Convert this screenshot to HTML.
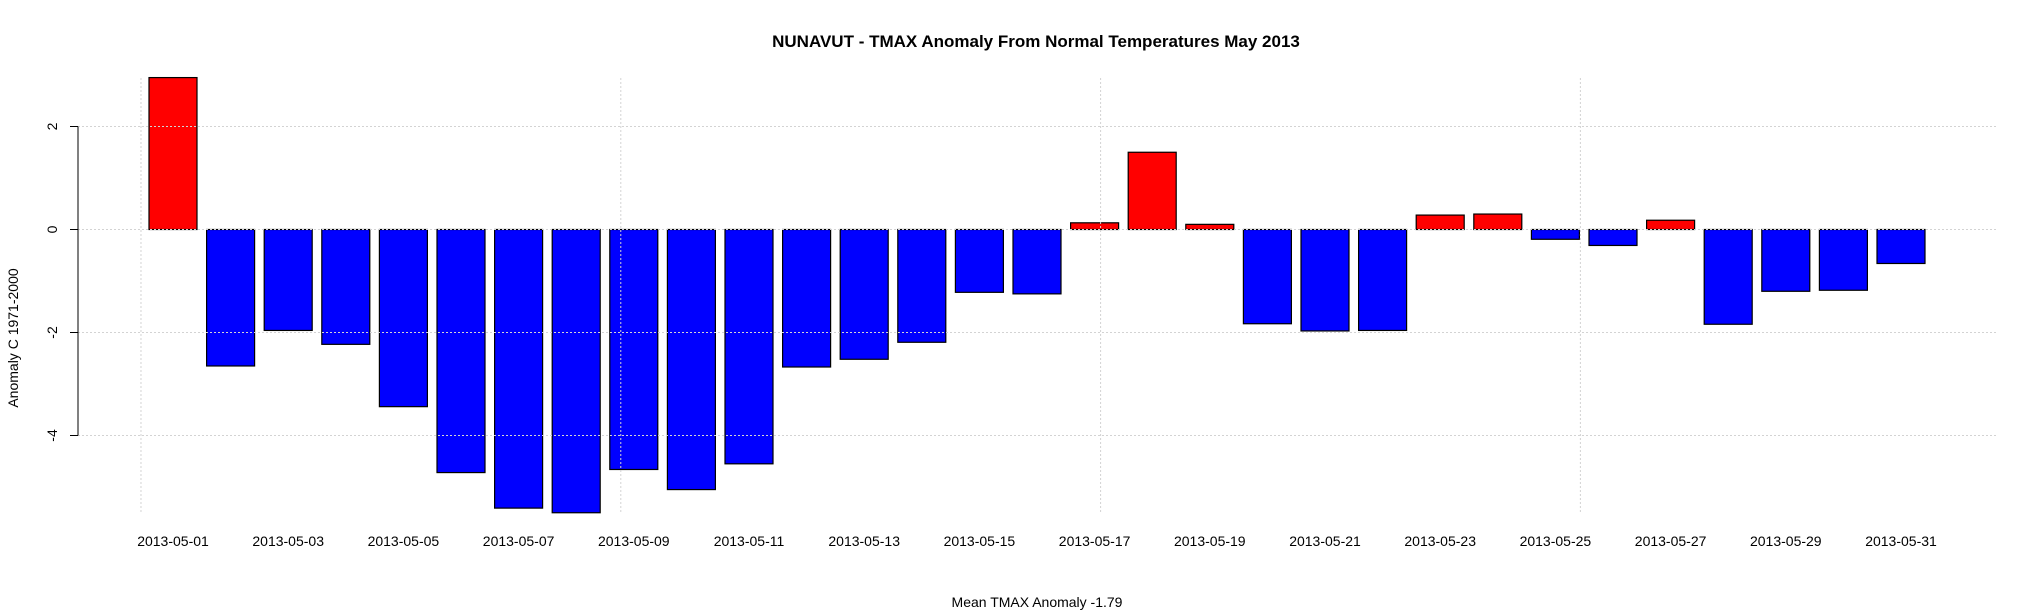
<!DOCTYPE html>
<html><head><meta charset="utf-8"><style>
body{margin:0;background:#fff}
svg{display:block;font-family:"Liberation Sans",Arial,sans-serif}
</style></head><body>
<svg id="chart" width="2037" height="610" viewBox="0 0 2037 610" xmlns="http://www.w3.org/2000/svg">
<text x="1036" y="47" text-anchor="middle" font-size="17" font-weight="bold">NUNAVUT - TMAX Anomaly From Normal Temperatures May 2013</text>
<text transform="translate(18,338) rotate(-90)" text-anchor="middle" font-size="14">Anomaly C 1971-2000</text>
<text x="1037" y="607" text-anchor="middle" font-size="14">Mean TMAX Anomaly -1.79</text>
<g id="bars"></g><g id="grid"></g><g id="axis"></g>
</svg>
<script>
const days = Array.from({length:31},(_,i)=>'2013-05-'+String(i+1).padStart(2,'0'));
const anomalies = [2.95,-2.65,-1.96,-2.23,-3.44,-4.72,-5.41,-5.50,-4.66,-5.05,-4.55,-2.67,-2.52,-2.19,-1.22,-1.25,0.13,1.50,0.10,-1.83,-1.97,-1.96,0.28,0.30,-0.19,-0.31,0.18,-1.84,-1.20,-1.18,-0.66];
const yTicks = [2,0,-2,-4];
const yTickLabels = ['2','0','-2','-4'];
const ns='http://www.w3.org/2000/svg';
const x0=173, pitch=57.6, bw=48;
const xS=i=>x0+pitch*i;
const yS=v=>229.5-51.5*v;
function mk(t,a,p){const e=document.createElementNS(ns,t);for(const k in a)e.setAttribute(k,a[k]);p.appendChild(e);return e;}
const gB=document.getElementById('bars'),gG=document.getElementById('grid'),gA=document.getElementById('axis');
anomalies.forEach((v,i)=>{
  const y1=yS(Math.max(v,0)),y2=yS(Math.min(v,0));
  const r=mk('rect',{x:xS(i)-bw/2,y:y1,width:bw,height:y2-y1,fill:v>=0?'#ff0000':'#0000ff',stroke:'#000','stroke-width':1.2},gB);
  
  
  if(i%2===0){
    const t=mk('text',{x:xS(i),y:546,'text-anchor':'middle','font-size':14},gA);
    t.textContent=days[i];
    
    
  }
});
yTicks.forEach((v,k)=>{
  const l=mk('line',{x1:78,x2:1996,y1:yS(v),y2:yS(v),stroke:'#d3d3d3','stroke-dasharray':'2,2'},gG);
  
  
  const tk=mk('line',{x1:70,x2:78,y1:yS(v),y2:yS(v),stroke:'#000'},gA);
  
  
  const t=mk('text',{transform:`translate(57,${yS(v)}) rotate(-90)`,'text-anchor':'middle','font-size':14},gA);
  t.textContent=yTickLabels[k];
  
  
});
for(let k=0;k<4;k++){
  const x=xS(-0.556+8.33*k);
  const l=mk('line',{x1:x,x2:x,y1:78,y2:513,stroke:'#d3d3d3','stroke-dasharray':'2,2'},gG);
  
  
}
const ax=mk('line',{x1:78,x2:78,y1:yS(2),y2:yS(-4),stroke:'#000'},gA);


</script>
</body></html>
